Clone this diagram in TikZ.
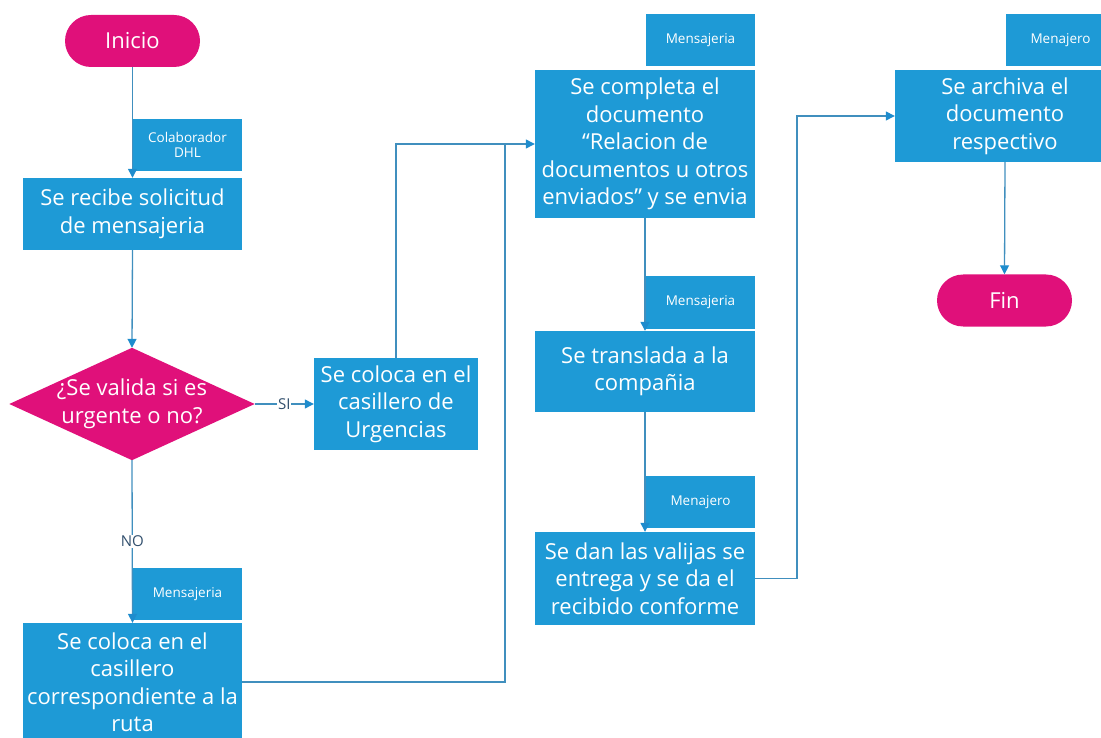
\documentclass[tikz,border=0pt]{standalone}
\usepackage{fontspec}
\setmainfont{Open Sans}
\usetikzlibrary{arrows.meta}
\definecolor{boxblue}{RGB}{30,154,214}
\definecolor{pink}{RGB}{224,16,122}
\definecolor{wire}{RGB}{64,143,190}
\definecolor{tipblue}{RGB}{30,140,205}
\definecolor{lbl}{RGB}{50,80,110}
\tikzset{
  x=1pt, y=-1pt,
  stepbox/.style={fill=boxblue, text=white, align=center, inner sep=0pt,
    font=\fontsize{22}{27.5}\selectfont},
  tagbox/.style={fill=boxblue, text=white, align=center, inner sep=0pt,
    minimum height=52pt, font=\fontsize{13.5}{15}\selectfont},
  pill/.style={fill=pink, text=white, rounded corners=26pt, inner sep=0pt,
    minimum width=135pt, minimum height=52pt, font=\fontsize{22}{26}\selectfont},
  flow/.style={draw=wire, line width=1.3pt,
    -{Triangle[length=9pt,width=9pt,fill=tipblue,color=tipblue]}},
  link/.style={draw=wire, line width=1.3pt},
  branch/.style={fill=white, text=lbl, inner sep=1pt, font=\fontsize{15}{17}\selectfont}
}
\begin{document}
\begin{tikzpicture}
\useasboundingbox (0,0) rectangle (1101,738);
\clip (0,0) rectangle (1101,738);

% terminals
\node[pill] (ini) at (132.5,41) {Inicio};
\node[pill] (fin) at (1004.5,300.5) {Fin};

% process steps
\node[stepbox, minimum width=219pt, minimum height=72pt] (rec) at (132.5,214)
  {Se recibe solicitud\\de mensajeria};
\node[stepbox, minimum width=164pt, minimum height=92pt] (urg) at (396,404)
  {Se coloca en el\\casillero de\\Urgencias};
\node[stepbox, minimum width=219pt, minimum height=118pt] (ruta) at (132.5,682)
  {Se coloca en el\\casillero\\correspondiente a la\\ruta};
\node[stepbox, minimum width=220pt, minimum height=148pt] (rel) at (645,144)
  {Se completa el\\documento\\“Relacion de\\documentos u otros\\enviados” y se envia};
\node[stepbox, minimum width=220pt, minimum height=81pt] (tras) at (645,371.5)
  {Se translada a la\\compañia};
\node[stepbox, minimum width=220pt, minimum height=93pt] (val) at (645,578.5)
  {Se dan las valijas se\\entrega y se da el\\recibido conforme};
\node[stepbox, minimum width=220pt, minimum height=92pt] (arch) at (1005,116)
  {Se archiva el\\documento\\respectivo};

% decision
\node[minimum width=245pt, minimum height=112pt, inner sep=0pt] (dec) at (132,404) {};
\fill[pink] (dec.north) -- (dec.east) -- (dec.south) -- (dec.west) -- cycle;
\node[text=white, align=center, font=\fontsize{22}{27.5}\selectfont] (dect) at (dec.center)
  {¿Se valida si es\\urgente o no?};

% role tags
\node[tagbox, minimum width=109pt] (t1) at (187.5,145) {Colaborador\\DHL};
\node[tagbox, minimum width=109pt] (t2) at (187.5,594) {Mensajeria};
\node[tagbox, minimum width=109pt] (t3) at (700.5,40) {Mensajeria};
\node[tagbox, minimum width=109pt] (t4) at (700.5,302.5) {Mensajeria};
\node[tagbox, minimum width=109pt] (t5) at (700.5,502) {Menajero};
\node[tagbox, minimum width=109pt] (t6) at (1060.5,40) {Menajero};

% junctions
\coordinate (j1) at (505,145);
\coordinate (j2) at (797,116);

% connectors
\draw[flow] (ini.south) -- (rec.north);
\draw[flow] (rec.south) -- (dec.north);
\draw[flow] (dec.east) -- node[branch] {SI} (urg.west);
\draw[flow] (dec.south) -- node[branch, pos=0.5] {NO} (ruta.north);
\draw[flow] (urg.north) |- (rel.west);
\draw[link] (ruta.east) -| (j1);
\draw[flow] (rel.south) -- (tras.north);
\draw[flow] (tras.south) -- (val.north);
\draw[flow] (val.east) -| (j2) -- (arch.west);
\draw[flow] (arch.south) -- (fin.north);
\end{tikzpicture}
\end{document}
